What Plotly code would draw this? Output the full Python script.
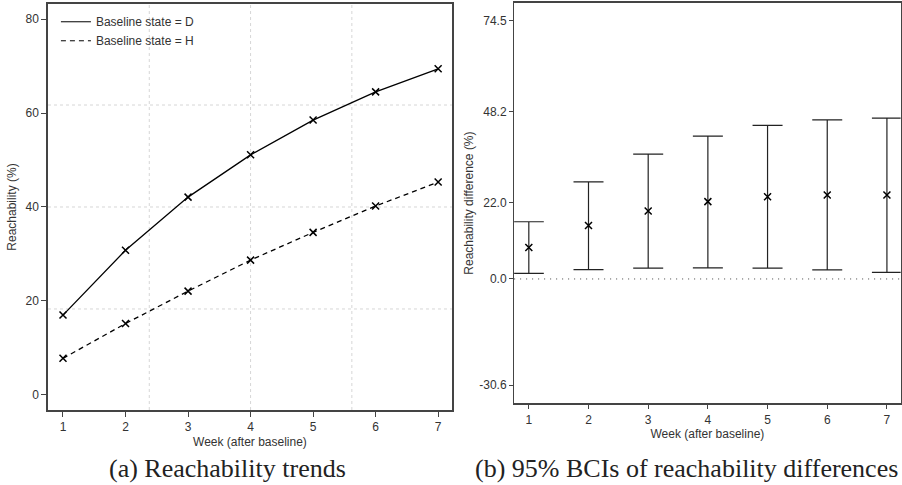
import plotly.graph_objects as go
from plotly.subplots import make_subplots

weeks = [1, 2, 3, 4, 5, 6, 7]
reach_D = [17.0, 30.8, 42.1, 51.1, 58.5, 64.5, 69.4]
reach_H = [7.8, 15.2, 22.1, 28.7, 34.6, 40.2, 45.3]

diff_est = [9.1, 15.4, 19.6, 22.3, 23.7, 24.2, 24.2]
diff_upper = [16.5, 28.0, 36.0, 41.2, 44.3, 45.9, 46.4]
diff_lower = [1.6, 2.7, 3.1, 3.2, 3.1, 2.6, 1.9]

left_yticks = [0, 20, 40, 60, 80]
right_yticks = [74.5, 48.2, 22.0, 0.0, -30.6]
right_yticktext = ["74.5", "48.2", "22.0", "0.0", "-30.6"]
grid_x = [2.38, 4.0, 5.62]
grid_y = [18.3, 40.0, 61.7]

FONT = "Liberation Sans"
AX = "#444444"
TXT = "#333333"
DASH = "5px,4px"

fig = make_subplots(rows=1, cols=2)

# grid lines (left panel)
for gx in grid_x:
    fig.add_shape(type="line", xref="x", yref="paper", x0=gx, x1=gx, y0=0.1546, y1=0.9918,
                  line=dict(color="#d6d6d6", width=1, dash="3px,3px"), layer="below")
for gy in grid_y:
    fig.add_shape(type="line", xref="paper", yref="y", x0=0.0532, x1=0.501, y0=gy, y1=gy,
                  line=dict(color="#d6d6d6", width=1, dash="3px,3px"), layer="below")

mk = dict(symbol="x-thin", size=7, line=dict(width=1.5, color="black"), color="black")

fig.add_trace(go.Scatter(x=weeks, y=reach_D, mode="lines+markers", line=dict(color="black", width=1.3),
                         marker=mk, showlegend=False), row=1, col=1)
fig.add_trace(go.Scatter(x=weeks, y=reach_H, mode="lines+markers",
                         line=dict(color="black", width=1.3, dash=DASH),
                         marker=mk, showlegend=False), row=1, col=1)
# legend entries (line samples only)
fig.add_trace(go.Scatter(x=[None], y=[None], mode="lines", line=dict(color="black", width=1),
                         name="Baseline state = D"), row=1, col=1)
fig.add_trace(go.Scatter(x=[None], y=[None], mode="lines", line=dict(color="black", width=1, dash=DASH),
                         name="Baseline state = H"), row=1, col=1)

err_plus = [u - e for u, e in zip(diff_upper, diff_est)]
err_minus = [e - l for e, l in zip(diff_est, diff_lower)]
fig.add_trace(go.Scatter(x=weeks, y=diff_est, mode="markers", marker=mk, showlegend=False,
                         error_y=dict(type="data", symmetric=False, array=err_plus, arrayminus=err_minus,
                                      color="#222222", thickness=1.2, width=15)), row=1, col=2)

fig.add_hline(y=0, line=dict(color="#444444", width=1, dash="1px,5px"), row=1, col=2)

fig.update_xaxes(domain=[0.0532, 0.501], range=[0.76, 7.22], tickvals=weeks, showgrid=False,
                 zeroline=False, showline=True, mirror=True, linecolor=AX, linewidth=1.5,
                 ticks="outside", ticklen=5, tickcolor=AX,
                 tickfont=dict(family=FONT, size=12, color=TXT),
                 title=dict(text="Week (after baseline)", font=dict(family=FONT, size=12, color=TXT), standoff=4),
                 row=1, col=1)
fig.update_yaxes(domain=[0.1546, 0.9918], range=[-3.2, 83.2], tickvals=left_yticks, showgrid=False,
                 zeroline=False, showline=True, mirror=True, linecolor=AX, linewidth=1.5,
                 ticks="outside", ticklen=5, tickcolor=AX,
                 tickfont=dict(family=FONT, size=12, color=TXT),
                 title=dict(text="Reachability (%)", font=dict(family=FONT, size=12, color=TXT), standoff=6),
                 row=1, col=1)
fig.update_xaxes(domain=[0.570, 0.9985], range=[0.754, 7.23], tickvals=weeks, showgrid=False,
                 zeroline=False, showline=True, mirror=True, linecolor=AX, linewidth=1.5,
                 ticks="outside", ticklen=5, tickcolor=AX,
                 tickfont=dict(family=FONT, size=12, color=TXT),
                 title=dict(text="Week (after baseline)", font=dict(family=FONT, size=12, color=TXT), standoff=4),
                 row=1, col=2)
fig.update_yaxes(domain=[0.1697, 0.993], range=[-35.7, 79.5], tickvals=right_yticks, ticktext=right_yticktext,
                 showgrid=False, zeroline=False, showline=True, mirror=True, linecolor=AX, linewidth=1.2,
                 ticks="outside", ticklen=4, tickcolor=AX,
                 tickfont=dict(family=FONT, size=12, color=TXT),
                 title=dict(text="Reachability difference (%)", font=dict(family=FONT, size=12, color=TXT), standoff=3),
                 row=1, col=2)

fig.add_annotation(text="(a) Reachability trends", xref="paper", yref="paper", x=0.252, y=0.035,
                   xanchor="center", yanchor="middle", showarrow=False,
                   font=dict(family="Liberation Serif", size=26, color="#222222"))
fig.add_annotation(text="(b) 95% BCIs of reachability differences", xref="paper", yref="paper", x=0.761, y=0.035,
                   xanchor="center", yanchor="middle", showarrow=False,
                   font=dict(family="Liberation Serif", size=26, color="#222222"))

fig.update_layout(width=902, height=485, margin=dict(l=0, r=0, t=0, b=0),
                  plot_bgcolor="white", paper_bgcolor="white",
                  legend=dict(x=0.062, y=0.985, xanchor="left", yanchor="top", bgcolor="rgba(0,0,0,0)",
                              font=dict(family=FONT, size=12, color=TXT), tracegroupgap=0, itemwidth=30))

fig.write_html("out.html", config={"displayModeBar": False},
               post_script="document.body.style.margin='0';document.body.style.padding='0';")
